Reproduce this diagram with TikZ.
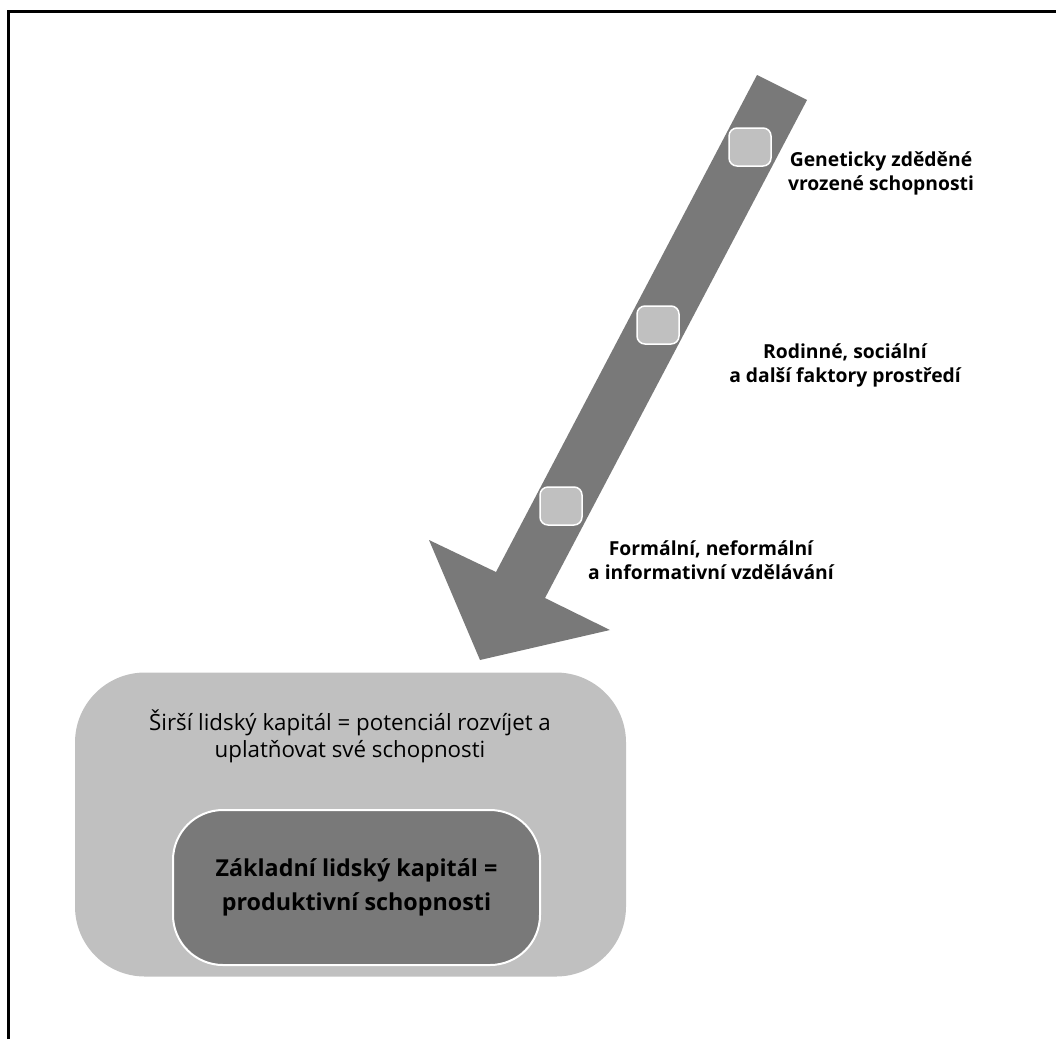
\documentclass[tikz,border=0pt]{standalone}
\usepackage{fontspec}
\setmainfont{Open Sans}
\definecolor{darkgr}{HTML}{797979}
\definecolor{lightgr}{HTML}{C0C0C0}
\tikzset{
  stepbox/.style={rounded corners=8pt, fill=lightgr, draw=white, line width=1.5pt,
    minimum width=42pt, minimum height=38pt},
  factor/.style={align=center, font=\bfseries\fontsize{19.3}{24}\selectfont},
}
\begin{document}
\begin{tikzpicture}[x=1pt,y=-1pt]
            \useasboundingbox (0,0) rectangle (1056,1039);
            \draw[line width=3pt] (8,1039) -- (8,11) -- (1056,11);

            \node[rounded corners=70pt, fill=lightgr, minimum width=551pt, minimum height=304pt] (outer) at (350.5,824.5) {};
            \node[align=center, font=\fontsize{22.3}{27}\selectfont] (otext) at (350,736) {Širší lidský kapitál = potenciál rozvíjet a\\uplatňovat své schopnosti};
            \node[rounded corners=50pt, fill=darkgr, draw=white, line width=2pt, minimum width=367pt, minimum height=155pt,
                  align=center, font=\bfseries\fontsize{23.3}{34}\selectfont] (inner) at (356.5,887.5) {Základní lidský kapitál =\\produktivní schopnosti};

            \fill[darkgr] (757,75) -- (807,100) -- (545,598) -- (610,630) -- (480,660) -- (429,540) -- (496,572) -- cycle;

            \node[stepbox] (1) at (750,147) {};
            \node[stepbox] (2) at (658,325) {};
            \node[stepbox] (3) at (561,506) {};

            \node[factor] (g) at (881,173) {Geneticky zděděné\\vrozené schopnosti};
            \node[factor] (r) at (845,365) {Rodinné, sociální\\a další faktory prostředí};
            \node[factor] (f) at (711,560) {Formální, neformální\\a informativní vzdělávání};
        \end{tikzpicture}
\end{document}
